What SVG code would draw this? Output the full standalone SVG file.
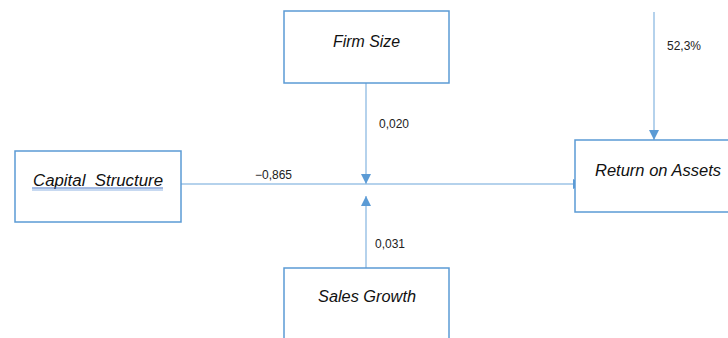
<svg xmlns="http://www.w3.org/2000/svg" width="728" height="338" viewBox="0 0 728 338">
<style>
.box{fill:#fff;stroke:#5B9BD5;stroke-width:1.5}
.t{font-family:"Liberation Sans",Arial,sans-serif;font-style:italic;font-size:16px;fill:#111}
.lbl{font-family:"Liberation Sans",Arial,sans-serif;font-size:12px;fill:#222}
.ln{stroke:#9DC3E6;stroke-width:1.5;fill:none}
</style>
<defs>
<marker id="ah" viewBox="0 0 10 10" refX="10" refY="5" markerWidth="10" markerHeight="10" markerUnits="userSpaceOnUse" orient="auto">
<path d="M0,0 L10,5 L0,10 Z" fill="#5B9BD5"/>
</marker>
</defs>
<rect width="728" height="338" fill="#fff"/>
<g id="connectors">
<line class="ln" x1="181" y1="184" x2="583" y2="184" marker-end="url(#ah)"/>
<line class="ln" x1="366" y1="83" x2="366" y2="184" marker-end="url(#ah)"/>
<line class="ln" x1="366" y1="268" x2="366" y2="196" marker-end="url(#ah)"/>
<line class="ln" x1="654" y1="12" x2="654" y2="140" marker-end="url(#ah)"/>
<text class="lbl" x="255" y="179">−0,865</text>
<text class="lbl" x="379" y="128">0,020</text>
<text class="lbl" x="375" y="248">0,031</text>
<text class="lbl" x="667" y="50">52,3%</text>
</g>
<g id="capital-structure">
<rect class="box" x="15" y="151" width="166" height="71"/>
<text class="t" x="33" y="186" textLength="130" lengthAdjust="spacingAndGlyphs">Capital&#160; Structure</text>
<line x1="32" y1="188" x2="163" y2="188" stroke="#4472C4" stroke-width="1"/>
<line x1="32" y1="190" x2="163" y2="190" stroke="#8FB4E3" stroke-width="1"/>
</g>
<g id="firm-size">
<rect class="box" x="284" y="11" width="165" height="72"/>
<text class="t" x="333" y="47" textLength="67" lengthAdjust="spacingAndGlyphs">Firm Size</text>
</g>
<g id="sales-growth">
<rect class="box" x="284" y="268" width="165" height="80"/>
<text class="t" x="318" y="302" textLength="98" lengthAdjust="spacingAndGlyphs">Sales Growth</text>
</g>
<g id="return-on-assets">
<rect class="box" x="575" y="140" width="170" height="72"/>
<text class="t" x="595" y="176" textLength="126" lengthAdjust="spacingAndGlyphs">Return on Assets</text>
</g>
</svg>
